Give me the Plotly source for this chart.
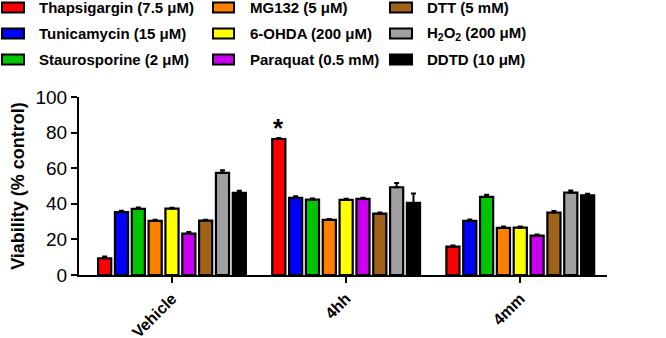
import plotly.graph_objects as go

categories = ["Vehicle", "4hh", "4mm"]
series_names = [
    "Thapsigargin (7.5 μM)", "Tunicamycin (15 μM)", "Staurosporine (2 μM)",
    "MG132 (5 μM)", "6-OHDA (200 μM)", "Paraquat (0.5 mM)",
    "DTT (5 mM)", "H<sub>2</sub>O<sub>2</sub> (200 μM)", "DDTD (10 μM)",
]
thapsigargin = [9.4, 76.4, 15.9]
tunicamycin = [35.3, 43.3, 30.4]
staurosporine = [37.1, 42.4, 43.9]
mg132 = [30.4, 31.0, 26.5]
ohda = [37.3, 42.2, 26.6]
paraquat = [23.3, 42.8, 22.1]
dtt = [30.6, 34.5, 35.1]
h2o2 = [57.4, 49.3, 46.3]
ddtd = [46.2, 40.5, 44.8]

err_thapsigargin = [1.0, 0.5, 0.7]
err_tunicamycin = [0.8, 1.0, 0.8]
err_staurosporine = [0.8, 0.6, 1.2]
err_mg132 = [0.6, 0.5, 0.8]
err_ohda = [0.5, 0.6, 0.6]
err_paraquat = [0.8, 0.6, 0.6]
err_dtt = [0.5, 0.6, 0.8]
err_h2o2 = [1.5, 2.4, 1.2]
err_ddtd = [1.2, 5.3, 0.9]

y_ticks = [0, 20, 40, 60, 80, 100]

values = [thapsigargin, tunicamycin, staurosporine, mg132, ohda, paraquat, dtt, h2o2, ddtd]
errors = [err_thapsigargin, err_tunicamycin, err_staurosporine, err_mg132, err_ohda,
          err_paraquat, err_dtt, err_h2o2, err_ddtd]
colors = ["#FF0000", "#0000FF", "#00C400", "#FF8000", "#FFFF00",
          "#C800F0", "#A0621A", "#A0A0A4", "#000000"]

FONT = "Liberation Sans, Arial, sans-serif"
BARGAP = 0.13

fig = go.Figure()
for name, vals, errs, col in zip(series_names, values, errors, colors):
    fig.add_trace(go.Bar(
        x=categories, y=vals, name=name,
        marker=dict(color=col, line=dict(color="black", width=2.2)),
        error_y=dict(type="data", array=errs, arrayminus=[0] * len(errs),
                     symmetric=False, color="black", thickness=2, width=2.5),
        showlegend=False,
    ))

# plot area geometry (pixels)
L, R, T, B = 79, 607, 97, 275
W, H = R - L, B - T

def px_x(px):
    return (px - L) / W

def px_y(py):
    return (B - py) / H

shapes = []
annotations = []
col_swatch = [(2, 24), (213, 234), (390, 412)]
col_text = [37, 248, 425]
row_y = [7.5, 33.5, 59.5]
for i, (name, col) in enumerate(zip(series_names, colors)):
    c, r = i // 3, i % 3
    x0, x1 = col_swatch[c]
    yc = row_y[r]
    shapes.append(dict(type="rect", xref="paper", yref="paper",
                       x0=px_x(x0), x1=px_x(x1), y0=px_y(yc + 5), y1=px_y(yc - 5),
                       fillcolor=col, line=dict(color="black", width=2)))
    annotations.append(dict(xref="paper", yref="paper", x=px_x(col_text[c]), y=px_y(yc),
                            xanchor="left", yanchor="middle", showarrow=False,
                            text="<b>" + name + "</b>",
                            font=dict(family=FONT, size=15, color="black")))

# significance marker above Thapsigargin in 4hh group
offset = (0 - 4) * (1 - BARGAP) / 9
annotations.append(dict(x=1 + offset, y=thapsigargin[1], xref="x", yref="y",
                        text="<b>*</b>", showarrow=False, yanchor="bottom", yshift=-6,
                        font=dict(family=FONT, size=26, color="black")))

fig.update_layout(
    width=666, height=338,
    margin=dict(l=L, r=666 - R, t=T, b=338 - B),
    paper_bgcolor="white", plot_bgcolor="white",
    barmode="group", bargap=BARGAP, bargroupgap=0.22,
    shapes=shapes, annotations=annotations,
    font=dict(family=FONT, color="black"),
)
fig.update_xaxes(
    type="category", range=[-0.534, 2.498], automargin=False,
    showline=True, linecolor="black", linewidth=2,
    ticks="outside", ticklen=6, tickwidth=2, tickcolor="black",
    tickangle=-45, tickfont=dict(family=FONT, size=16, color="black"),
    tickprefix="<b>", ticksuffix="</b>", showgrid=False, zeroline=False,
)
fig.update_yaxes(
    range=[0, 100], tickvals=y_ticks, automargin=False,
    showline=True, linecolor="black", linewidth=2,
    ticks="outside", ticklen=6, tickwidth=2, tickcolor="black",
    tickfont=dict(family=FONT, size=19, color="black"),
    tickprefix="<b>", ticksuffix="</b>",
    title=dict(text="<b>Viability (% control)</b>", font=dict(family=FONT, size=18, color="black"), standoff=6),
    showgrid=False, zeroline=False,
)

fig.write_html("out.html", config={"displayModeBar": False},
               post_script="document.body.style.margin='0';document.body.style.overflow='hidden';")
